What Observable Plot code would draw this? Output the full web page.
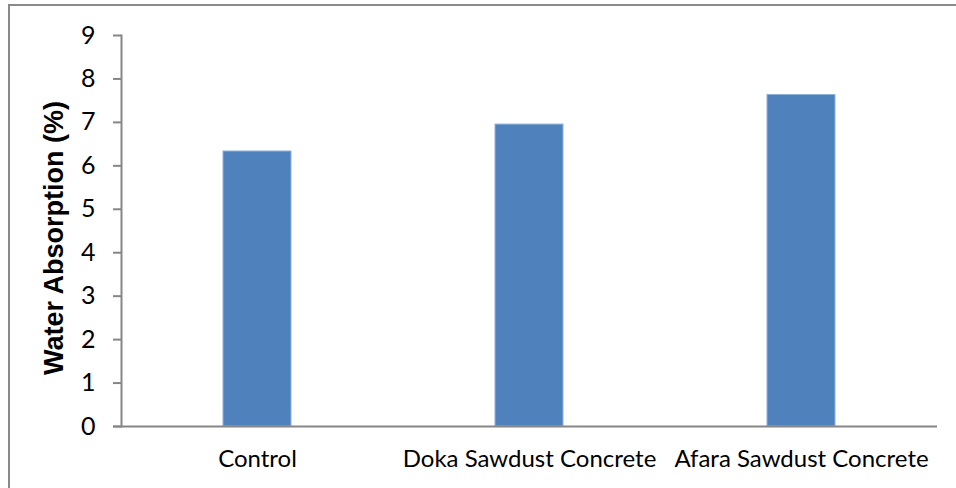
<!DOCTYPE html>
<html>
<head>
<meta charset="utf-8">
<script src="https://cdn.jsdelivr.net/npm/d3@7"></script>
<script src="https://cdn.jsdelivr.net/npm/@observablehq/plot@0.6"></script>
<style>
  html, body { margin: 0; padding: 0; background: #fff; overflow: hidden; }
  #wrap { position: relative; width: 956px; height: 488px; overflow: hidden; }
  #border { position: absolute; left: 8px; top: 4px; width: 1100px; height: 700px;
            border: 2px solid #8a8a8a; box-sizing: border-box; pointer-events: none; }
  #chart { position: absolute; left: 0; top: 0; }
</style>
</head>
<body>
<div id="wrap">
  <div id="chart"></div>
  <div id="border"></div>
</div>
<script>
// Water absorption of the three concrete mixes
const categories = ["Control", "Doka Sawdust Concrete", "Afara Sawdust Concrete"];
const absorption = [6.33, 6.95, 7.63];
const yTicks = [0, 1, 2, 3, 4, 5, 6, 7, 8, 9];

const data = categories.map((c, i) => ({category: c, value: absorption[i]}));
const axisGray = "#868686";
const labelFont = "Lato, 'Open Sans', sans-serif";

const chart = Plot.plot({
  width: 956,
  height: 488,
  marginLeft: 121,
  marginRight: 19,
  marginTop: 35,
  marginBottom: 62,
  style: {fontFamily: labelFont, color: "#000", background: "transparent"},
  x: {domain: categories, paddingInner: 0.75, paddingOuter: 0.375, label: null},
  y: {domain: [0, 9], label: null},
  marks: [
    Plot.barY(data, {x: "category", y: "value", fill: "#4f81bd", stroke: "#8fb2dd", strokeWidth: 1}),
    // value axis: line, outward ticks and labels
    Plot.frame({anchor: "left", stroke: axisGray, strokeWidth: 2}),
    Plot.ruleY(yTicks, {insetLeft: -8, insetRight: 816, stroke: axisGray, strokeWidth: 2}),
    Plot.axisY({ticks: yTicks, tickSize: 0, tickPadding: 26, label: null, fill: "#000",
                fontSize: 25, fontFamily: labelFont}),
    // category axis
    Plot.axisX({tickSize: 0, tickPadding: 23, label: null, fill: "#000",
                fontSize: 24, fontFamily: labelFont}),
    Plot.ruleY([0], {stroke: axisGray, strokeWidth: 2, insetLeft: -8}),
    Plot.text(["Water Absorption (%)"], {
      frameAnchor: "left", dx: -67, dy: 7, rotate: -90, textAnchor: "middle",
      fontWeight: "bold", fontSize: 27, fontFamily: "'Liberation Sans', Arial, sans-serif", fill: "#000"
    })
  ]
});
document.getElementById("chart").appendChild(chart);
</script>
</body>
</html>
